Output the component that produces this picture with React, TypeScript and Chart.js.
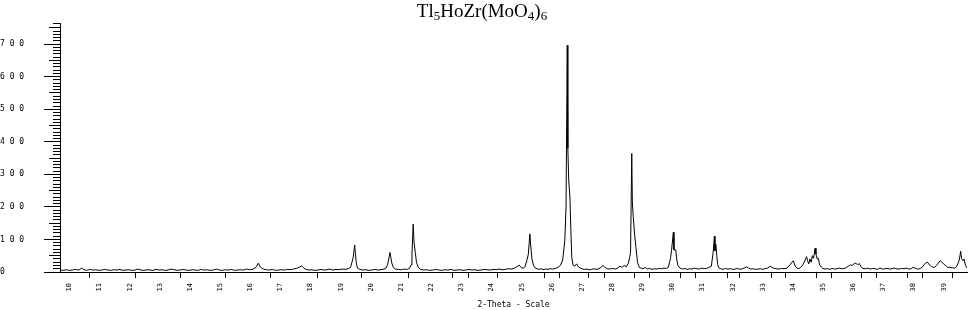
import React, { useEffect, useRef } from "react";
import { Chart, registerables } from "chart.js";

Chart.register(...registerables);

// Title pieces: [text, isSubscript]
const TITLE_PARTS: [string, boolean][] = [
  ["Tl", false], ["5", true], ["HoZr(MoO", false], ["4", true], [")", false], ["6", true],
];
const X_TITLE = "2-Theta - Scale";

const X_MIN = 9.685;
const X_MAX = 39.77;
const Y_MAX = 765;

const X_LABEL_VALUES = [10, 11, 12, 13, 14, 15, 16, 17, 18, 19, 20, 21, 22, 23, 24, 25, 26, 27, 28, 29, 30, 31, 32, 33, 34, 35, 36, 37, 38, 39];
const X_TICK_MARKS = [10.68, 12.18, 13.67, 15.19, 16.68, 18.21, 19.70, 21.23, 22.72, 24.21, 25.74, 27.23, 28.75, 30.28, 31.81, 33.30, 34.79, 36.28, 37.78, 39.30];
const X_EXTRA_TICK_MARKS = [23.22, 26.24, 27.73, 29.25, 30.75, 32.24, 33.76, 35.29, 36.78, 38.31];

// [2-theta, counts]
const SEG_10_19: [number, number][] = [
  [9.70, 6], [9.80, 5], [9.90, 7], [10.00, 5], [10.10, 6], [10.20, 8], [10.30, 6], [10.41, 12], [10.47, 7], [10.57, 5],
  [10.67, 8], [10.77, 6], [10.87, 7], [10.97, 5], [11.07, 6], [11.17, 8], [11.27, 6], [11.37, 5], [11.47, 7], [11.57, 6],
  [11.67, 8], [11.77, 5], [11.87, 6], [11.97, 7], [12.07, 5], [12.17, 6], [12.27, 9], [12.37, 6], [12.47, 5], [12.57, 7],
  [12.67, 6], [12.77, 5], [12.87, 8], [12.97, 6], [13.07, 7], [13.17, 5], [13.27, 6], [13.37, 9], [13.47, 7], [13.57, 5],
  [13.67, 6], [13.77, 8], [13.87, 6], [13.97, 5], [14.07, 7], [14.17, 6], [14.27, 5], [14.37, 8], [14.47, 6], [14.57, 7],
  [14.67, 5], [14.77, 6], [14.87, 9], [14.97, 6], [15.07, 5], [15.17, 7], [15.27, 6], [15.37, 8], [15.47, 5], [15.57, 6],
  [15.67, 7], [15.77, 6], [15.87, 9], [15.97, 7], [16.07, 8], [16.18, 14], [16.26, 27], [16.33, 15], [16.43, 9], [16.53, 7],
  [16.63, 6], [16.73, 8], [16.83, 5], [16.93, 6], [17.03, 7], [17.13, 6], [17.23, 8], [17.33, 7], [17.43, 9], [17.53, 11],
  [17.63, 15], [17.70, 19], [17.76, 13], [17.84, 8], [17.94, 6], [18.04, 7], [18.14, 5], [18.24, 6], [18.34, 8], [18.44, 6],
  [18.54, 7], [18.64, 9], [18.74, 6], [18.84, 8], [18.94, 7], [19.04, 9], [19.14, 8], [19.24, 10], [19.32, 14],
];

const SEG_19_26: [number, number][] = [
  [19.37, 30], [19.41, 45], [19.46, 83], [19.48, 60], [19.51, 30], [19.55, 12], [19.63, 8], [19.73, 6], [19.83, 7], [19.93, 5],
  [20.03, 6], [20.13, 8], [20.23, 6], [20.33, 7], [20.43, 9], [20.50, 12], [20.55, 22], [20.59, 40], [20.63, 60], [20.66, 45],
  [20.69, 28], [20.74, 14], [20.81, 9], [20.91, 8], [21.01, 7], [21.11, 9], [21.21, 8], [21.28, 12], [21.33, 22], [21.36, 55],
  [21.40, 147], [21.43, 90], [21.47, 60], [21.51, 30], [21.57, 14], [21.65, 8], [21.75, 6], [21.85, 7], [21.95, 5], [22.05, 6],
  [22.15, 8], [22.25, 6], [22.35, 5], [22.45, 7], [22.55, 6], [22.65, 8], [22.75, 5], [22.85, 6], [22.95, 7], [23.05, 5],
  [23.15, 6], [23.25, 8], [23.35, 6], [23.45, 7], [23.55, 5], [23.65, 6], [23.75, 8], [23.85, 7], [23.95, 6], [24.05, 8],
  [24.15, 7], [24.25, 9], [24.35, 7], [24.45, 8], [24.55, 10], [24.65, 9], [24.75, 11], [24.85, 17], [24.92, 21], [24.99, 13],
  [25.05, 12], [25.11, 16], [25.17, 35], [25.22, 55], [25.27, 117], [25.30, 80], [25.34, 40], [25.39, 20], [25.45, 12], [25.51, 10],
  [25.57, 8], [25.64, 10], [25.71, 7], [25.79, 9], [25.87, 8], [25.95, 10], [26.03, 9], [26.11, 11], [26.20, 14], [26.28, 20],
];

const SEG_26_31: [number, number][] = [
  [26.36, 37], [26.43, 98], [26.47, 200], [26.51, 697], [26.53, 380], [26.56, 280], [26.60, 230], [26.63, 130], [26.66, 45], [26.70, 22],
  [26.76, 18], [26.82, 25], [26.88, 16], [26.94, 12], [27.00, 10], [27.08, 8], [27.16, 9], [27.24, 7], [27.32, 8], [27.40, 10],
  [27.50, 8], [27.60, 12], [27.70, 20], [27.76, 14], [27.84, 10], [27.92, 9], [28.02, 11], [28.10, 9], [28.18, 12], [28.26, 18],
  [28.32, 14], [28.40, 20], [28.47, 16], [28.54, 27], [28.58, 45], [28.61, 60], [28.65, 364], [28.67, 215], [28.70, 170], [28.74, 120],
  [28.79, 75], [28.84, 30], [28.90, 14], [28.96, 12], [29.02, 10], [29.10, 14], [29.16, 9], [29.24, 11], [29.32, 8], [29.40, 10],
  [29.48, 9], [29.56, 11], [29.64, 10], [29.72, 12], [29.80, 11], [29.86, 14], [29.91, 32], [29.94, 45], [29.97, 67], [30.03, 122],
  [30.05, 68], [30.11, 68], [30.14, 40], [30.18, 20], [30.25, 12], [30.33, 9], [30.41, 11], [30.49, 8], [30.57, 10], [30.65, 9],
  [30.73, 12], [30.81, 10], [30.89, 9], [30.97, 12], [31.05, 10], [31.13, 11], [31.21, 14], [31.29, 18], [31.35, 60], [31.39, 110],
  [31.41, 65], [31.44, 85], [31.47, 50], [31.50, 22], [31.54, 13],
];

const SEG_31_40: [number, number][] = [
  [31.60, 10], [31.68, 8], [31.76, 11], [31.84, 9], [31.92, 10], [32.00, 8], [32.08, 9], [32.16, 11], [32.24, 8], [32.32, 10],
  [32.40, 13], [32.46, 16], [32.52, 12], [32.60, 9], [32.68, 10], [32.76, 8], [32.84, 9], [32.92, 10], [33.00, 8], [33.08, 11],
  [33.16, 12], [33.24, 18], [33.30, 14], [33.38, 11], [33.46, 10], [33.54, 9], [33.62, 11], [33.70, 10], [33.78, 12], [33.84, 16],
  [33.90, 22], [33.96, 30], [34.01, 34], [34.07, 18], [34.13, 12], [34.19, 10], [34.25, 14], [34.31, 20], [34.37, 30], [34.45, 47],
  [34.48, 35], [34.52, 25], [34.56, 40], [34.60, 30], [34.64, 50], [34.68, 42], [34.73, 73], [34.76, 55], [34.80, 40], [34.84, 42],
  [34.88, 22], [34.94, 15], [34.99, 11], [35.06, 9], [35.14, 10], [35.22, 8], [35.30, 11], [35.38, 9], [35.46, 10], [35.54, 12],
  [35.62, 10], [35.70, 11], [35.78, 14], [35.84, 18], [35.90, 22], [35.96, 20], [36.02, 25], [36.08, 27], [36.14, 22], [36.20, 26],
  [36.26, 15], [36.32, 11], [36.40, 10], [36.48, 12], [36.56, 9], [36.64, 11], [36.72, 10], [36.80, 8], [36.88, 12], [36.96, 9],
  [37.04, 10], [37.12, 11], [37.20, 9], [37.28, 10], [37.36, 12], [37.44, 10], [37.52, 9], [37.60, 11], [37.68, 10], [37.76, 12],
  [37.84, 9], [37.92, 10], [37.98, 15], [38.04, 12], [38.10, 10], [38.16, 9], [38.22, 11], [38.28, 14], [38.34, 22], [38.40, 28],
  [38.46, 30], [38.52, 22], [38.60, 16], [38.68, 14], [38.76, 20], [38.82, 28], [38.88, 35], [38.94, 30], [39.00, 24], [39.06, 20],
  [39.12, 15], [39.20, 14], [39.28, 13], [39.36, 12], [39.42, 16], [39.48, 28], [39.52, 40], [39.56, 64], [39.59, 42], [39.63, 35],
  [39.67, 40], [39.72, 20], [39.77, 12],
];

const titlePlugin = {
  id: "subscriptTitle",
  afterDraw(chart: any) {
    const ctx = chart.ctx as CanvasRenderingContext2D;
    const mainFont = '19px "Liberation Serif", "Times New Roman", serif';
    const subFont = '13px "Liberation Serif", "Times New Roman", serif';
    ctx.save();
    ctx.fillStyle = "#000";
    ctx.textBaseline = "alphabetic";
    ctx.textAlign = "left";
    let total = 0;
    const widths = TITLE_PARTS.map(([t, sub]) => {
      ctx.font = sub ? subFont : mainFont;
      const w = ctx.measureText(t).width;
      total += w;
      return w;
    });
    let x = chart.width / 2 - total / 2 - 2;
    TITLE_PARTS.forEach(([t, sub], i) => {
      ctx.font = sub ? subFont : mainFont;
      ctx.fillText(t, x, sub ? 20 : 17);
      x += widths[i];
    });
    ctx.restore();
  },
};

export default function App() {
  const canvasRef = useRef<HTMLCanvasElement>(null);

  useEffect(() => {
    if (!canvasRef.current) return;
    const points = [...SEG_10_19, ...SEG_19_26, ...SEG_26_31, ...SEG_31_40].map(([x, y]) => ({ x, y }));
    const allXTicks = [...X_LABEL_VALUES, ...X_TICK_MARKS, ...X_EXTRA_TICK_MARKS].sort((a, b) => a - b);

    const chart = new Chart(canvasRef.current, {
      type: "line",
      data: {
        datasets: [
          {
            data: points,
            borderColor: "#000",
            borderWidth: 1,
            pointRadius: 0,
            fill: false,
            tension: 0,
          },
        ],
      },
      options: {
        responsive: false,
        animation: false,
        devicePixelRatio: 1,
        layout: { padding: { top: 23, right: 1, left: 0, bottom: 0 } },
        plugins: {
          legend: { display: false },
          tooltip: { enabled: false },
          title: { display: false },
        },
        scales: {
          x: {
            type: "linear",
            min: X_MIN,
            max: X_MAX,
            afterBuildTicks: (scale: any) => {
              scale.ticks = allXTicks.map((v) => ({ value: v }));
            },
            afterFit: (scale: any) => {
              scale.height = 38;
            },
            ticks: {
              autoSkip: false,
              minRotation: 90,
              maxRotation: 90,
              padding: 5,
              color: "#000",
              font: { family: "DejaVu Sans Mono", size: 7 },
              callback: (v: any) => (Number.isInteger(v) ? String(v) : ""),
            },
            grid: {
              drawOnChartArea: false,
              tickLength: 6,
              tickWidth: 1,
              tickColor: (c: any) => (c.tick && Number.isInteger(c.tick.value) ? "rgba(0,0,0,0)" : "#000"),
            },
            border: { color: "#000", width: 1 },
            title: {
              display: true,
              text: X_TITLE,
              color: "#000",
              font: { family: "DejaVu Sans Mono", size: 8 },
              padding: { top: 0, bottom: 0 },
            },
          },
          y: {
            type: "linear",
            min: 0,
            max: Y_MAX,
            afterFit: (scale: any) => {
              scale.width = 60;
            },
            ticks: {
              stepSize: 10,
              autoSkip: false,
              crossAlign: "far",
              padding: 3,
              color: "#000",
              font: { family: "DejaVu Sans Mono", size: 8 },
              callback: (v: any) => (v % 100 === 0 ? String(v).split("").join(" ") : ""),
            },
            grid: {
              drawOnChartArea: false,
              tickLength: 16,
              tickWidth: 1,
              tickColor: "#000",
              tickBorderDash: (c: any) => {
                const v = c.tick ? c.tick.value : 0;
                if (v % 100 === 0) return [];
                if (v % 50 === 0) return [0, 5, 11, 0];
                return [0, 9, 7, 0];
              },
            },
            border: { color: "#000", width: 1 },
          },
        },
      } as any,
      plugins: [titlePlugin],
    });
    return () => chart.destroy();
  }, []);

  return (
    <div style={{ position: "fixed", left: 0, top: 0, width: 968, height: 310, background: "#fff" }}>
      <canvas ref={canvasRef} width={968} height={310} style={{ display: "block" }} />
    </div>
  );
}
